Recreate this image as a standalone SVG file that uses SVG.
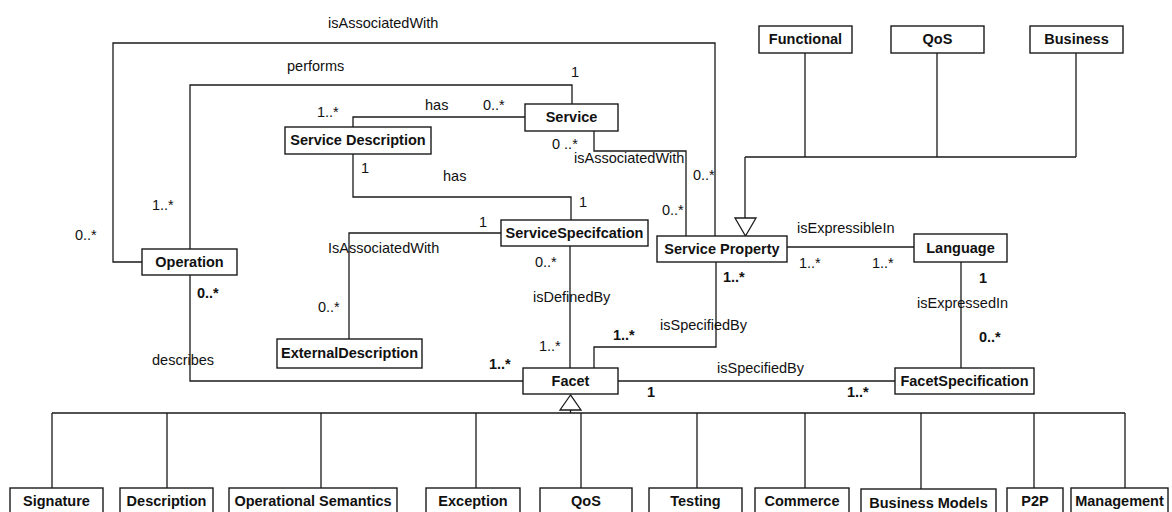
<svg xmlns="http://www.w3.org/2000/svg" width="1172" height="512" viewBox="0 0 1172 512">
<style>
.box{fill:#fff;stroke:#1a1a1a;stroke-width:1.4}
.ln{fill:none;stroke:#1a1a1a;stroke-width:1.3}
.tri{fill:#fff;stroke:#1a1a1a;stroke-width:1.3}
.nt{font-family:"Liberation Sans",Arial,sans-serif;font-size:14.5px;font-weight:bold;fill:#111;text-anchor:middle}
.lb{font-family:"Liberation Sans",Arial,sans-serif;font-size:14.5px;fill:#111}
.lbb{font-family:"Liberation Sans",Arial,sans-serif;font-size:14.5px;font-weight:bold;fill:#111}
</style>
<rect width="1172" height="512" fill="#fff"/>
<g id="connectors">
<path class="ln" d="M142,262 H113 V43 H715 V236"/>
<path class="ln" d="M190,249 V85 H572 V104"/>
<path class="ln" d="M353,127 V117 H525"/>
<path class="ln" d="M353,154 V197 H571 V220"/>
<path class="ln" d="M501,233 H349 V339"/>
<path class="ln" d="M190,275 V381 H523"/>
<path class="ln" d="M570,246 V368"/>
<path class="ln" d="M716,262 V347 H594 V368"/>
<path class="ln" d="M594,131 V151 H686 V236"/>
<path class="ln" d="M787,247 H914"/>
<path class="ln" d="M961,262 V368"/>
<path class="ln" d="M618,381 H895"/>
<path class="ln" d="M805,53 V157 M937,53 V157 M1076,53 V157 M745,157 H1076 M745,157 V218"/>
<polygon class="tri" points="735,218 756,218 745.5,236"/>
<path class="ln" d="M570.5,410 V413 M52,413 H1125 M52,413 V488 M167,413 V488 M321,413 V488 M476,413 V488 M581,413 V488 M697,413 V488 M805,413 V488 M921,413 V489 M1034,413 V488 M1125,413 V488"/>
<polygon class="tri" points="570.5,395 560,410 581,410"/>
</g>
<g id="labels">
<text class="lb" x="328" y="28">isAssociatedWith</text>
<text class="lb" x="287" y="71">performs</text>
<text class="lb" x="571" y="77">1</text>
<text class="lb" x="317" y="117">1..*</text>
<text class="lb" x="425" y="110">has</text>
<text class="lb" x="483" y="110">0..*</text>
<text class="lb" x="552" y="149">0 ..*</text>
<text class="lb" x="574" y="163">isAssociatedWith</text>
<text class="lb" x="693" y="180">0..*</text>
<text class="lb" x="662" y="215">0..*</text>
<text class="lb" x="361" y="173">1</text>
<text class="lb" x="443" y="181">has</text>
<text class="lb" x="579" y="207">1</text>
<text class="lb" x="479" y="227">1</text>
<text class="lb" x="328" y="253">IsAssociatedWith</text>
<text class="lb" x="152" y="210">1..*</text>
<text class="lb" x="75" y="240">0..*</text>
<text class="lbb" x="197" y="298">0..*</text>
<text class="lb" x="318" y="312">0..*</text>
<text class="lb" x="152" y="365">describes</text>
<text class="lb" x="535" y="267">0..*</text>
<text class="lb" x="533" y="302">isDefinedBy</text>
<text class="lb" x="539" y="351">1..*</text>
<text class="lbb" x="489" y="369">1..*</text>
<text class="lbb" x="613" y="340">1..*</text>
<text class="lb" x="660" y="330">isSpecifiedBy</text>
<text class="lbb" x="723" y="282">1..*</text>
<text class="lb" x="717" y="373">isSpecifiedBy</text>
<text class="lbb" x="647" y="397">1</text>
<text class="lbb" x="847" y="397">1..*</text>
<text class="lb" x="797" y="233">isExpressibleIn</text>
<text class="lb" x="799" y="268">1..*</text>
<text class="lb" x="872" y="268">1..*</text>
<text class="lbb" x="979" y="283">1</text>
<text class="lb" x="917" y="308">isExpressedIn</text>
<text class="lbb" x="979" y="342">0..*</text>
</g>
<g id="functional"><rect class="box" x="759" y="26" width="93" height="27"/><text class="nt" x="805.5" y="44">Functional</text></g>
<g id="qos-top"><rect class="box" x="891" y="26" width="93" height="27"/><text class="nt" x="937.5" y="44">QoS</text></g>
<g id="business"><rect class="box" x="1030" y="26" width="93" height="27"/><text class="nt" x="1076.5" y="44">Business</text></g>
<g id="service"><rect class="box" x="525" y="104" width="93" height="27"/><text class="nt" x="571.5" y="122">Service</text></g>
<g id="service-description"><rect class="box" x="285" y="127" width="146" height="27"/><text class="nt" x="358" y="145">Service Description</text></g>
<g id="service-specification"><rect class="box" x="501" y="220" width="147" height="26"/><text class="nt" x="574.5" y="237.5">ServiceSpecifcation</text></g>
<g id="service-property"><rect class="box" x="657" y="236" width="130" height="26"/><text class="nt" x="722" y="253.5">Service Property</text></g>
<g id="language"><rect class="box" x="914" y="234" width="93" height="28"/><text class="nt" x="960.5" y="252.5">Language</text></g>
<g id="operation"><rect class="box" x="142" y="249" width="95" height="26"/><text class="nt" x="189.5" y="266.5">Operation</text></g>
<g id="external-description"><rect class="box" x="277" y="339" width="145" height="29"/><text class="nt" x="349.5" y="358">ExternalDescription</text></g>
<g id="facet"><rect class="box" x="523" y="368" width="95" height="26"/><text class="nt" x="570.5" y="385.5">Facet</text></g>
<g id="facet-specification"><rect class="box" x="895" y="368" width="139" height="26"/><text class="nt" x="964.5" y="385.5">FacetSpecification</text></g>
<g id="signature"><rect class="box" x="10" y="488" width="93" height="30"/><text class="nt" x="56.5" y="506">Signature</text></g>
<g id="description"><rect class="box" x="120" y="488" width="93" height="30"/><text class="nt" x="166.5" y="506">Description</text></g>
<g id="operational-semantics"><rect class="box" x="229" y="488" width="168" height="30"/><text class="nt" x="313" y="506">Operational Semantics</text></g>
<g id="exception"><rect class="box" x="426" y="488" width="94" height="30"/><text class="nt" x="473" y="506">Exception</text></g>
<g id="qos-bottom"><rect class="box" x="540" y="488" width="92" height="30"/><text class="nt" x="586" y="506">QoS</text></g>
<g id="testing"><rect class="box" x="649" y="488" width="93" height="30"/><text class="nt" x="695.5" y="506">Testing</text></g>
<g id="commerce"><rect class="box" x="755" y="488" width="94" height="30"/><text class="nt" x="802" y="506">Commerce</text></g>
<g id="business-models"><rect class="box" x="861" y="489" width="135" height="30"/><text class="nt" x="928.5" y="508">Business Models</text></g>
<g id="p2p"><rect class="box" x="1007" y="488" width="56" height="30"/><text class="nt" x="1035" y="506">P2P</text></g>
<g id="management"><rect class="box" x="1071" y="488" width="97" height="30"/><text class="nt" x="1119.5" y="506">Management</text></g>
</svg>
